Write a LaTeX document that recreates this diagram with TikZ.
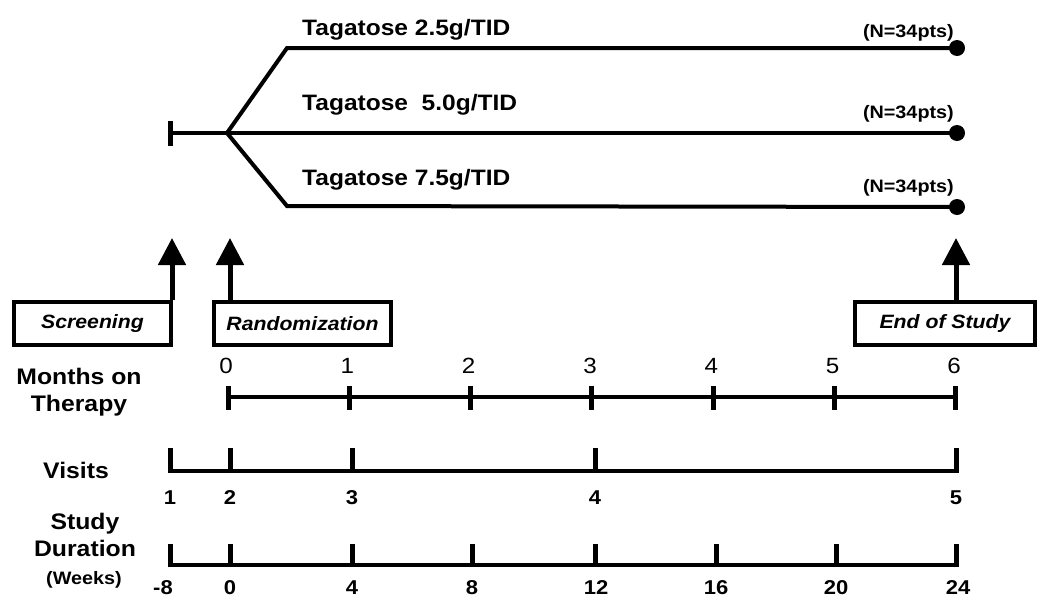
\documentclass[tikz,border=0pt]{standalone}
\usepackage{fontspec}
\setmainfont{Liberation Sans}[FakeStretch=1.1]
\usetikzlibrary{arrows.meta}
\begin{document}
\begin{tikzpicture}[x=1pt,y=-1pt,
  line/.style={line width=4pt},
  tickline/.style={line width=5pt},
  dot/.style={circle,fill=black,inner sep=0pt,minimum size=16pt},
  armlab/.style={anchor=base west,inner sep=0pt,font=\fontsize{22.3}{24}\selectfont\bfseries},
  nlab/.style={anchor=base east,inner sep=0pt,font=\fontsize{18}{20}\selectfont\bfseries},
  evbox/.style={draw,line width=4pt,minimum height=43pt,inner sep=0pt,font=\fontsize{19.3}{21}\selectfont\bfseries\itshape},
  bigarrow/.style={line width=5pt,-{Triangle[length=27pt,width=27pt]}},
  rowlab/.style={align=center,inner sep=0pt,font=\fontsize{22.5}{27}\selectfont\bfseries},
  monlab/.style={inner sep=0pt,font=\fontsize{22}{24}\selectfont},
  numlab/.style={inner sep=0pt,font=\fontsize{20}{22}\selectfont\bfseries}]
\useasboundingbox (0,0) rectangle (1050,603);
% treatment arms
\coordinate (s) at (170,133);
\coordinate (b) at (227,133);
\coordinate (u) at (287,48);
\coordinate (l) at (287,206);
\node[dot] (d1) at (957,48) {};
\node[dot] (d2) at (957,133) {};
\node[dot] (d3) at (957,207) {};
\draw[tickline] (170,121) -- (170,146);
\draw[line,line join=miter] (s) -- (b) -- (d2.center);
\draw[line,line join=miter] (b) -- (u) -- (d1.center);
\draw[line,line join=miter] (b) -- (l) -- (d3.center);
\node[armlab] (t1) at (302,35) {Tagatose 2.5g/TID};
\node[armlab] (t2) at (302,110) {Tagatose\ \ 5.0g/TID};
\node[armlab] (t3) at (302,185) {Tagatose 7.5g/TID};
\node[nlab] (n1) at (954,37) {(N=34pts)};
\node[nlab] (n2) at (954,118) {(N=34pts)};
\node[nlab] (n3) at (954,192) {(N=34pts)};
% event boxes
\node[evbox,minimum width=157pt] (scr) at (92.5,323.5) {Screening};
\node[evbox,minimum width=177pt] (ran) at (302.5,323.5) {Randomization};
\node[evbox,minimum width=180pt] (eos) at (945,323.5) {End of Study};
\coordinate (a1) at (172,238);
\coordinate (a2) at (230,238);
\coordinate (a3) at (956,238);
\draw[bigarrow] (scr.north east -| a1) -- (a1);
\draw[bigarrow] (ran.north -| a2) -- (a2);
\draw[bigarrow] (eos.north -| a3) -- (a3);
% row labels
\node[rowlab] (mot) at (79,392) {Months on\\Therapy};
\node[rowlab] (vis) at (76,470) {Visits};
\node[rowlab] (sd) at (85,535) {Study\\Duration};
\node[inner sep=0pt,font=\fontsize{18}{20}\selectfont\bfseries] (wk) at (84,580) {(Weeks)};
% months axis
\coordinate (m0) at (228,397);
\coordinate (m6) at (956,397);
\draw[line] (m0) -- (m6);
\foreach \i in {0,...,6}{
  \draw[tickline] ({228+121.33*\i},386) -- ({228+121.33*\i},410);
  \node[monlab] (ml\i) at ({226+121.33*\i},366) {\i};
}
% visits axis
\coordinate (v0) at (170,471);
\coordinate (v1) at (956,471);
\draw[line,line cap=rect] (v0) -- (v1);
\foreach \x/\t in {170/1,230/2,352/3,595/4,956/5}{
  \draw[tickline] (\x,473) -- (\x,448);
  \node[numlab] (vl\t) at (\x,498) {\t};
}
% duration axis
\coordinate (w0) at (170,565);
\coordinate (w1) at (956,565);
\draw[line,line cap=rect] (w0) -- (w1);
\foreach \x/\t/\lx in {170/-8/163,230/0/230,352/4/352,472/8/472,595/12/596,716/16/716,836/20/836,956/24/958}{
  \draw[tickline] (\x,567) -- (\x,544);
  \node[numlab] at (\lx,588) {\t};
}
\end{tikzpicture}
\end{document}
